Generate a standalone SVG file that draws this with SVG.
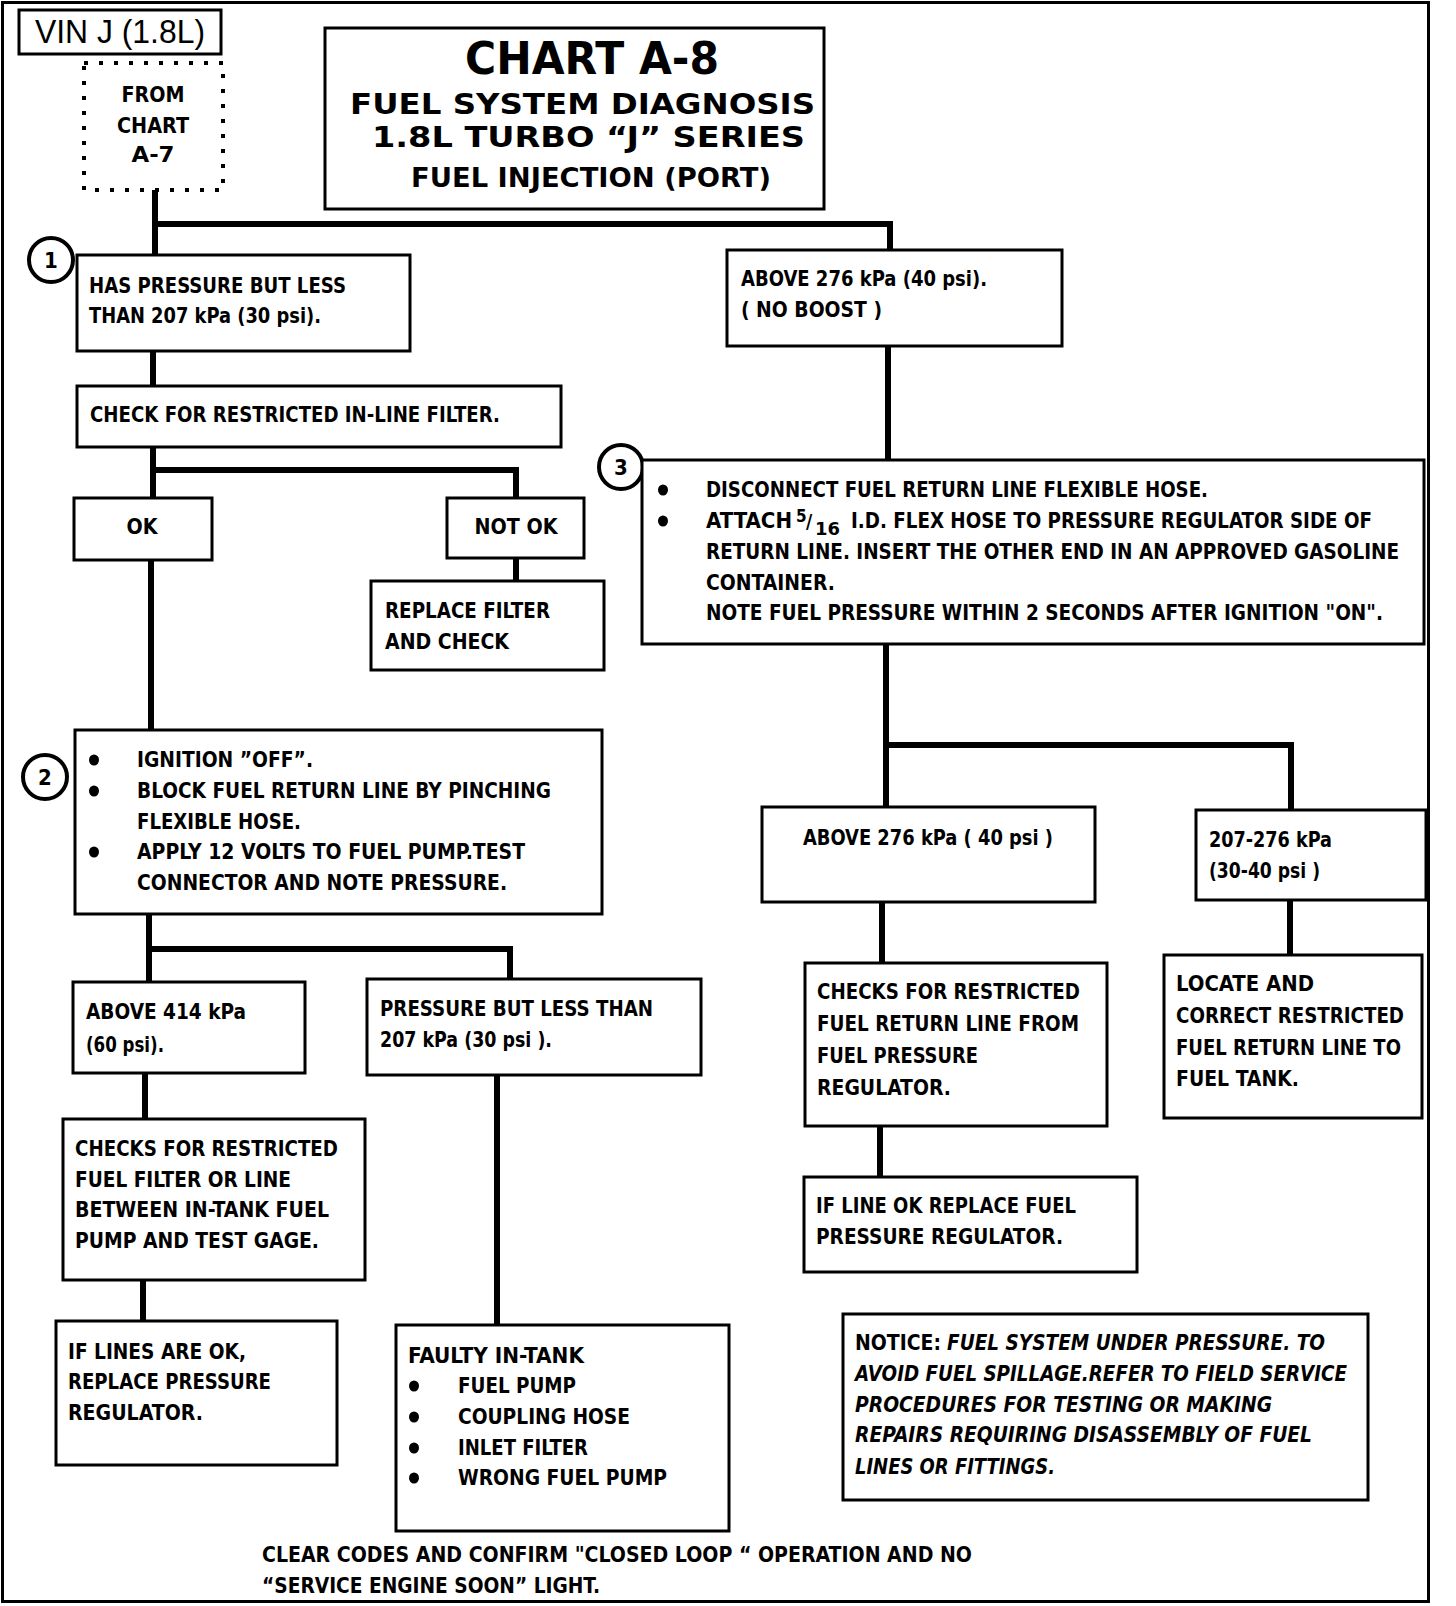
<svg xmlns="http://www.w3.org/2000/svg" width="1456" height="1606" viewBox="0 0 1456 1606">
<style>
.t{font-family:"Liberation Sans Narrow","DejaVu Sans Condensed","Liberation Sans",sans-serif;font-weight:bold;font-size:21px;fill:#000}
.it{font-style:italic}
.reg{font-family:"Liberation Sans Narrow","Liberation Sans",sans-serif;font-weight:normal;font-size:33px;fill:#000}
.box{fill:#fff;stroke:#000;stroke-width:3}
.conn{fill:none;stroke:#000;stroke-width:6}
.circ{fill:#fff;stroke:#000;stroke-width:4}
.num{font-family:"Liberation Sans Narrow","DejaVu Sans Condensed","Liberation Sans",sans-serif;font-weight:bold;font-size:22px;text-anchor:middle}
</style>
<rect width="1456" height="1606" fill="#fff"/>
<rect x="2.5" y="2.5" width="1426" height="1599" fill="none" stroke="#000" stroke-width="3"/>

<g id="connectors">
<path class="conn" d="M155 190 V255 M155 224 H890 V250"/>
<path class="conn" d="M153 351 V386"/>
<path class="conn" d="M153 447 V498 M153 470 H516 V498"/>
<path class="conn" d="M516 558 V581"/>
<path class="conn" d="M151 560 V730"/>
<path class="conn" d="M149 914 V982 M149 949 H510 V979"/>
<path class="conn" d="M145 1073 V1119"/>
<path class="conn" d="M143 1280 V1321"/>
<path class="conn" d="M497 1075 V1325"/>
<path class="conn" d="M888 346 V460"/>
<path class="conn" d="M886 644 V807 M886 745 H1291 V810"/>
<path class="conn" d="M882 902 V963"/>
<path class="conn" d="M880 1126 V1177"/>
<path class="conn" d="M1290 900 V955"/>
</g>

<g id="vin">
<rect class="box" x="19" y="10" width="202" height="44"/>
<text class="reg" x="35" y="43" textLength="170" lengthAdjust="spacingAndGlyphs">VIN J (1.8L)</text>
</g>

<g id="from-chart">
<rect x="84" y="63" width="139" height="127" fill="#fff" stroke="#000" stroke-width="4" stroke-dasharray="4 11"/>
<text class="t" x="153" y="102" text-anchor="middle" textLength="63" lengthAdjust="spacingAndGlyphs">FROM</text>
<text class="t" x="153" y="133" text-anchor="middle" textLength="72" lengthAdjust="spacingAndGlyphs">CHART</text>
<text class="t" x="153" y="162" text-anchor="middle" textLength="43" lengthAdjust="spacingAndGlyphs">A-7</text>
</g>

<g id="title">
<rect class="box" x="325" y="28" width="499" height="181"/>
<text class="t" x="465" y="74" style="font-size:45px" textLength="254" lengthAdjust="spacingAndGlyphs">CHART A-8</text>
<text class="t" x="350" y="114" style="font-size:28px" textLength="465" lengthAdjust="spacingAndGlyphs">FUEL SYSTEM DIAGNOSIS</text>
<text class="t" x="372" y="147" style="font-size:28px" textLength="433" lengthAdjust="spacingAndGlyphs">1.8L TURBO  “J”  SERIES</text>
<text class="t" x="411" y="187" style="font-size:27px" textLength="360" lengthAdjust="spacingAndGlyphs">FUEL INJECTION (PORT)</text>
</g>

<g id="step1">
<circle class="circ" cx="51" cy="260" r="22"/>
<text class="num" x="51" y="268">1</text>
</g>

<g id="has-pressure">
<rect class="box" x="77" y="255" width="333" height="96"/>
<text class="t" x="89" y="293" textLength="257" lengthAdjust="spacingAndGlyphs">HAS PRESSURE BUT LESS</text>
<text class="t" x="89" y="323" textLength="232" lengthAdjust="spacingAndGlyphs">THAN 207 kPa (30 psi).</text>
</g>

<g id="above-276-noboost">
<rect class="box" x="727" y="250" width="335" height="96"/>
<text class="t" x="741" y="286" textLength="246" lengthAdjust="spacingAndGlyphs">ABOVE 276 kPa (40 psi).</text>
<text class="t" x="741" y="317" textLength="141" lengthAdjust="spacingAndGlyphs">( NO BOOST )</text>
</g>

<g id="check-filter">
<rect class="box" x="77" y="386" width="484" height="61"/>
<text class="t" x="90" y="422" textLength="410" lengthAdjust="spacingAndGlyphs">CHECK FOR RESTRICTED IN-LINE FILTER.</text>
</g>

<g id="ok">
<rect class="box" x="74" y="498" width="138" height="62"/>
<text class="t" x="142" y="534" text-anchor="middle" textLength="31" lengthAdjust="spacingAndGlyphs">OK</text>
</g>

<g id="not-ok">
<rect class="box" x="447" y="498" width="137" height="60"/>
<text class="t" x="516" y="534" text-anchor="middle" textLength="83" lengthAdjust="spacingAndGlyphs">NOT OK</text>
</g>

<g id="replace-filter">
<rect class="box" x="371" y="581" width="233" height="89"/>
<text class="t" x="385" y="618" textLength="165" lengthAdjust="spacingAndGlyphs">REPLACE FILTER</text>
<text class="t" x="385" y="649" textLength="124" lengthAdjust="spacingAndGlyphs">AND CHECK</text>
</g>

<g id="step2">
<circle class="circ" cx="45" cy="777" r="22"/>
<text class="num" x="45" y="785">2</text>
</g>

<g id="ignition-off">
<rect class="box" x="75" y="730" width="527" height="184"/>
<ellipse cx="94" cy="760" rx="5" ry="5.5"/>
<ellipse cx="94" cy="791" rx="5" ry="5.5"/>
<ellipse cx="94" cy="852" rx="5" ry="5.5"/>
<text class="t" x="137" y="767" textLength="176" lengthAdjust="spacingAndGlyphs">IGNITION ”OFF”.</text>
<text class="t" x="137" y="798" textLength="414" lengthAdjust="spacingAndGlyphs">BLOCK FUEL RETURN LINE BY PINCHING</text>
<text class="t" x="137" y="829" textLength="164" lengthAdjust="spacingAndGlyphs">FLEXIBLE HOSE.</text>
<text class="t" x="137" y="859" textLength="388" lengthAdjust="spacingAndGlyphs">APPLY 12 VOLTS TO FUEL PUMP.TEST</text>
<text class="t" x="137" y="890" textLength="370" lengthAdjust="spacingAndGlyphs">CONNECTOR AND NOTE PRESSURE.</text>
</g>

<g id="above-414">
<rect class="box" x="73" y="982" width="232" height="91"/>
<text class="t" x="86" y="1019" textLength="160" lengthAdjust="spacingAndGlyphs">ABOVE 414 kPa</text>
<text class="t" x="86" y="1052" textLength="78" lengthAdjust="spacingAndGlyphs">(60 psi).</text>
</g>

<g id="pressure-less-207">
<rect class="box" x="367" y="979" width="334" height="96"/>
<text class="t" x="380" y="1016" textLength="273" lengthAdjust="spacingAndGlyphs">PRESSURE BUT LESS THAN</text>
<text class="t" x="380" y="1047" textLength="172" lengthAdjust="spacingAndGlyphs">207 kPa (30 psi ).</text>
</g>

<g id="checks-fuel-filter">
<rect class="box" x="63" y="1119" width="302" height="161"/>
<text class="t" x="75" y="1156" textLength="263" lengthAdjust="spacingAndGlyphs">CHECKS FOR RESTRICTED</text>
<text class="t" x="75" y="1187" textLength="216" lengthAdjust="spacingAndGlyphs">FUEL FILTER OR  LINE</text>
<text class="t" x="75" y="1217" textLength="254" lengthAdjust="spacingAndGlyphs">BETWEEN IN-TANK FUEL</text>
<text class="t" x="75" y="1248" textLength="244" lengthAdjust="spacingAndGlyphs">PUMP AND TEST GAGE.</text>
</g>

<g id="if-lines-ok">
<rect class="box" x="56" y="1321" width="281" height="144"/>
<text class="t" x="68" y="1359" textLength="178" lengthAdjust="spacingAndGlyphs">IF LINES ARE  OK,</text>
<text class="t" x="68" y="1389" textLength="203" lengthAdjust="spacingAndGlyphs">REPLACE PRESSURE</text>
<text class="t" x="68" y="1420" textLength="135" lengthAdjust="spacingAndGlyphs">REGULATOR.</text>
</g>

<g id="faulty-in-tank">
<rect class="box" x="396" y="1325" width="333" height="206"/>
<text class="t" x="408" y="1363" textLength="176" lengthAdjust="spacingAndGlyphs">FAULTY IN-TANK</text>
<ellipse cx="414" cy="1386" rx="5" ry="5.5"/>
<ellipse cx="414" cy="1417" rx="5" ry="5.5"/>
<ellipse cx="414" cy="1448" rx="5" ry="5.5"/>
<ellipse cx="414" cy="1478" rx="5" ry="5.5"/>
<text class="t" x="458" y="1393" textLength="118" lengthAdjust="spacingAndGlyphs">FUEL PUMP</text>
<text class="t" x="458" y="1424" textLength="172" lengthAdjust="spacingAndGlyphs">COUPLING HOSE</text>
<text class="t" x="458" y="1455" textLength="130" lengthAdjust="spacingAndGlyphs">INLET FILTER</text>
<text class="t" x="458" y="1485" textLength="209" lengthAdjust="spacingAndGlyphs">WRONG FUEL PUMP</text>
</g>

<g id="clear-codes">
<text class="t" x="262" y="1562" textLength="710" lengthAdjust="spacingAndGlyphs">CLEAR CODES AND CONFIRM "CLOSED LOOP “ OPERATION AND NO</text>
<text class="t" x="262" y="1593" textLength="338" lengthAdjust="spacingAndGlyphs">“SERVICE ENGINE SOON” LIGHT.</text>
</g>

<g id="step3">
<circle class="circ" cx="621" cy="467" r="22"/>
<text class="num" x="621" y="475">3</text>
</g>

<g id="disconnect">
<rect class="box" x="642" y="460" width="782" height="184"/>
<ellipse cx="663" cy="490" rx="5" ry="5.5"/>
<ellipse cx="663" cy="521" rx="5" ry="5.5"/>
<text class="t" x="706" y="497" textLength="502" lengthAdjust="spacingAndGlyphs">DISCONNECT FUEL RETURN LINE FLEXIBLE HOSE.</text>
<text class="t" x="706" y="528" textLength="86" lengthAdjust="spacingAndGlyphs">ATTACH</text>
<text class="t" x="796" y="522" style="font-size:17px">5</text>
<text class="t" x="806" y="528" style="font-size:19px">/</text>
<text class="t" x="815" y="535" style="font-size:17px" textLength="25" lengthAdjust="spacingAndGlyphs">16</text>
<text class="t" x="851" y="528" textLength="521" lengthAdjust="spacingAndGlyphs">I.D. FLEX HOSE TO PRESSURE REGULATOR SIDE OF</text>
<text class="t" x="706" y="559" textLength="693" lengthAdjust="spacingAndGlyphs">RETURN LINE. INSERT THE OTHER END IN AN APPROVED GASOLINE</text>
<text class="t" x="706" y="590" textLength="129" lengthAdjust="spacingAndGlyphs">CONTAINER.</text>
<text class="t" x="706" y="620" textLength="677" lengthAdjust="spacingAndGlyphs">NOTE FUEL PRESSURE WITHIN 2 SECONDS AFTER IGNITION "ON".</text>
</g>

<g id="above-276-40">
<rect class="box" x="762" y="807" width="333" height="95"/>
<text class="t" x="803" y="845" textLength="250" lengthAdjust="spacingAndGlyphs">ABOVE 276 kPa ( 40 psi )</text>
</g>

<g id="range-207-276">
<rect class="box" x="1196" y="810" width="230" height="90"/>
<text class="t" x="1209" y="847" textLength="123" lengthAdjust="spacingAndGlyphs">207-276 kPa</text>
<text class="t" x="1209" y="878" textLength="111" lengthAdjust="spacingAndGlyphs">(30-40 psi )</text>
</g>

<g id="checks-return-line">
<rect class="box" x="805" y="963" width="302" height="163"/>
<text class="t" x="817" y="999" textLength="263" lengthAdjust="spacingAndGlyphs">CHECKS FOR RESTRICTED</text>
<text class="t" x="817" y="1031" textLength="262" lengthAdjust="spacingAndGlyphs">FUEL RETURN LINE FROM</text>
<text class="t" x="817" y="1063" textLength="161" lengthAdjust="spacingAndGlyphs">FUEL PRESSURE</text>
<text class="t" x="817" y="1095" textLength="134" lengthAdjust="spacingAndGlyphs">REGULATOR.</text>
</g>

<g id="replace-regulator">
<rect class="box" x="804" y="1177" width="333" height="95"/>
<text class="t" x="816" y="1213" textLength="260" lengthAdjust="spacingAndGlyphs">IF LINE OK REPLACE FUEL</text>
<text class="t" x="816" y="1244" textLength="247" lengthAdjust="spacingAndGlyphs">PRESSURE REGULATOR.</text>
</g>

<g id="locate-correct">
<rect class="box" x="1164" y="955" width="258" height="163"/>
<text class="t" x="1176" y="991" textLength="138" lengthAdjust="spacingAndGlyphs">LOCATE AND</text>
<text class="t" x="1176" y="1023" textLength="228" lengthAdjust="spacingAndGlyphs">CORRECT RESTRICTED</text>
<text class="t" x="1176" y="1055" textLength="225" lengthAdjust="spacingAndGlyphs">FUEL RETURN LINE TO</text>
<text class="t" x="1176" y="1086" textLength="123" lengthAdjust="spacingAndGlyphs">FUEL TANK.</text>
</g>

<g id="notice">
<rect class="box" x="843" y="1314" width="525" height="186"/>
<text class="t" x="855" y="1350" textLength="86" lengthAdjust="spacingAndGlyphs">NOTICE:</text>
<text class="t it" x="947" y="1350" textLength="378" lengthAdjust="spacingAndGlyphs">FUEL SYSTEM UNDER PRESSURE. TO</text>
<text class="t it" x="855" y="1381" textLength="492" lengthAdjust="spacingAndGlyphs">AVOID FUEL SPILLAGE.REFER TO FIELD SERVICE</text>
<text class="t it" x="855" y="1412" textLength="417" lengthAdjust="spacingAndGlyphs">PROCEDURES FOR TESTING OR MAKING</text>
<text class="t it" x="855" y="1442" textLength="457" lengthAdjust="spacingAndGlyphs">REPAIRS REQUIRING DISASSEMBLY OF FUEL</text>
<text class="t it" x="855" y="1474" textLength="200" lengthAdjust="spacingAndGlyphs">LINES OR FITTINGS.</text>
</g>
</svg>
